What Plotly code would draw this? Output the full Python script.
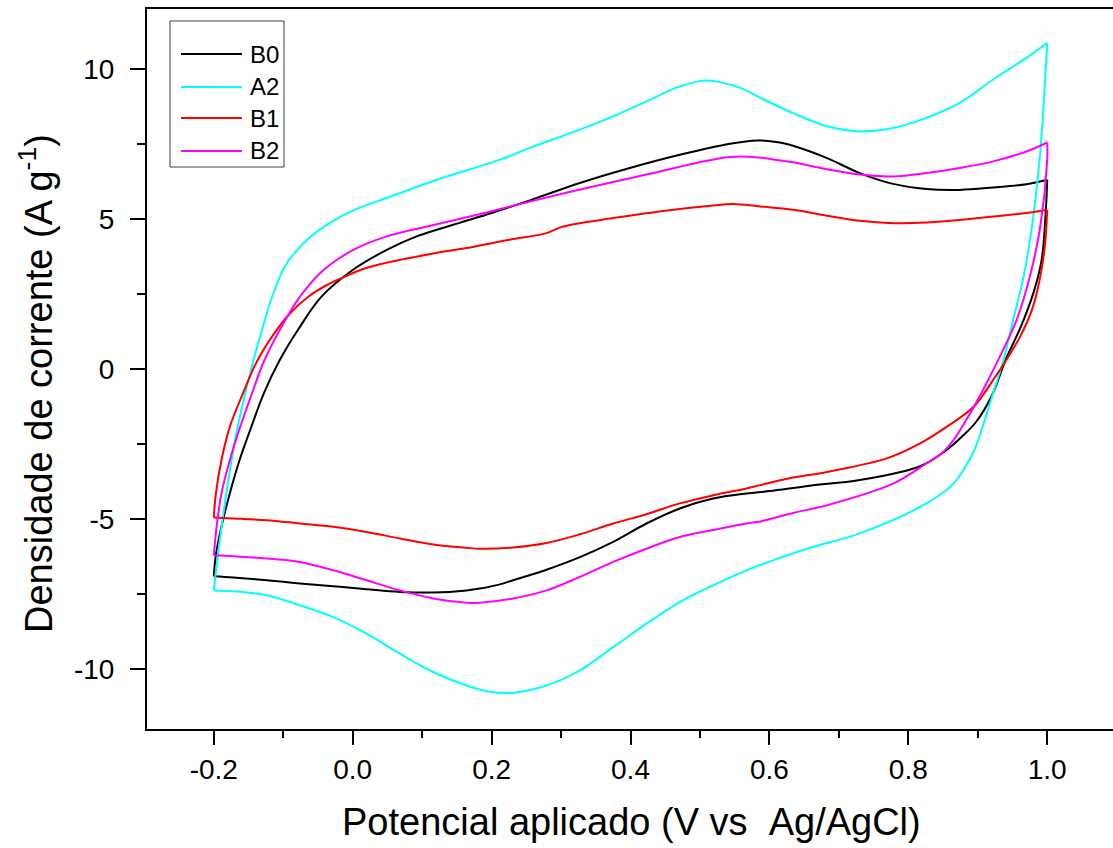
import plotly.graph_objects as go

# ---------------- data (potential V vs Ag/AgCl, current density A/g) -------------
# each loop: anodic sweep from -0.2 V to 1.0 V, then cathodic sweep back to -0.2 V
b0_v = [-0.2, -0.197, -0.189, -0.177, -0.163, -0.146, -0.128, -0.105, -0.079, -0.045, 0.0, 0.049, 0.092,
        0.155, 0.2, 0.255, 0.327, 0.399, 0.471, 0.543, 0.582, 0.615, 0.634, 0.683, 0.73, 0.778, 0.826,
        0.874, 0.922, 0.97, 1.0,
        0.998, 0.992, 0.98, 0.962, 0.94, 0.92, 0.898, 0.877, 0.855, 0.817, 0.73, 0.658, 0.6,
        0.567, 0.519, 0.471, 0.423, 0.375, 0.327, 0.279, 0.231, 0.212, 0.183, 0.164, 0.116, 0.068, 0.02,
        -0.028, -0.076, -0.124, -0.172, -0.2]
b0_j = [-6.91, -6.2, -5.26, -4.15, -3.04, -1.93, -0.81, 0.3, 1.30, 2.41, 3.30, 3.97, 4.42,
        4.88, 5.2, 5.62, 6.2, 6.7, 7.14, 7.51, 7.62, 7.55, 7.44, 7.03, 6.53, 6.17, 6.0,
        5.97, 6.05, 6.16, 6.31,
        5.31, 3.64, 2.53, 1.41, 0.3, -0.9, -1.75, -2.26, -2.70, -3.24, -3.70, -3.89, -4.07,
        -4.15, -4.32, -4.65, -5.15, -5.76, -6.27, -6.69, -7.04, -7.18, -7.32, -7.38, -7.45, -7.43, -7.34,
        -7.24, -7.15, -7.04, -6.95, -6.91]

a2_v = [-0.2, -0.193, -0.181, -0.168, -0.1428, -0.1306, -0.1162, -0.097, -0.083, -0.0658, -0.0327, 0.0033,
        0.0537, 0.1214, 0.2121, 0.255, 0.327, 0.375, 0.423, 0.471, 0.51, 0.558, 0.587, 0.634, 0.683, 0.73,
        0.778, 0.826, 0.874, 0.922, 0.97, 1.0,
        0.994, 0.989, 0.978, 0.966, 0.951, 0.937, 0.922, 0.91, 0.896, 0.881, 0.865, 0.826, 0.73, 0.66, 0.6,
        0.567, 0.519, 0.471, 0.423, 0.375, 0.327, 0.279, 0.231, 0.2, 0.164, 0.116, 0.068, 0.02, -0.028,
        -0.076, -0.124, -0.172, -0.2]
a2_j = [-7.38, -6.0, -4.0, -2.2, 0.30, 1.30, 2.40, 3.45, 3.88, 4.31, 4.87, 5.31,
        5.74, 6.31, 6.98, 7.37, 7.98, 8.42, 8.92, 9.42, 9.62, 9.37, 9.04, 8.53, 8.09, 7.92,
        8.03, 8.37, 8.87, 9.65, 10.37, 10.87,
        8.53, 6.98, 4.75, 3.08, 1.64, 0.3, -0.81, -1.70, -2.65, -3.3, -3.82, -4.48, -5.48, -5.95, -6.42,
        -6.71, -7.21, -7.77, -8.49, -9.27, -10.05, -10.55, -10.79, -10.77, -10.55, -10.1, -9.49, -8.82, -8.27,
        -7.88, -7.54, -7.41, -7.38]

b1_v = [-0.2, -0.197, -0.189, -0.177, -0.158, -0.138, -0.112, -0.09, -0.064, -0.037, -0.012, 0.011, 0.039,
        0.116, 0.164, 0.212, 0.231, 0.279, 0.303, 0.375, 0.447, 0.519, 0.548, 0.587, 0.634, 0.683, 0.73,
        0.778, 0.826, 0.874, 0.922, 0.97, 1.0,
        0.997, 0.99, 0.978, 0.961, 0.944, 0.922, 0.894, 0.855, 0.817, 0.769, 0.683, 0.634,
        0.587, 0.567, 0.519, 0.471, 0.423, 0.375, 0.327, 0.279, 0.231, 0.183, 0.164, 0.116, 0.068, 0.02,
        -0.028, -0.076, -0.124, -0.172, -0.2]
b1_j = [-4.95, -4.15, -3.04, -1.93, -0.81, 0.25, 1.22, 1.86, 2.41, 2.80, 3.07, 3.30, 3.49,
        3.85, 4.03, 4.25, 4.33, 4.53, 4.75, 5.03, 5.27, 5.45, 5.5, 5.42, 5.31, 5.11, 4.94,
        4.86, 4.88, 4.97, 5.08, 5.2, 5.31,
        4.2, 3.08, 1.97, 1.08, 0.41, -0.37, -1.26, -1.93, -2.48, -2.98, -3.43, -3.62,
        -3.87, -3.98, -4.21, -4.48, -4.84, -5.15, -5.51, -5.80, -5.95, -5.99, -5.96, -5.85, -5.65, -5.43,
        -5.26, -5.15, -5.04, -4.98, -4.95]

b2_v = [-0.2, -0.196, -0.189, -0.177, -0.162, -0.145, -0.128, -0.105, -0.076, -0.042, 0.001, 0.049, 0.107,
        0.164, 0.2, 0.255, 0.351, 0.423, 0.495, 0.543, 0.577, 0.61, 0.634, 0.683, 0.73, 0.778, 0.826,
        0.874, 0.922, 0.97, 1.0,
        1.0, 0.99, 0.975, 0.956, 0.934, 0.91, 0.889, 0.865, 0.848, 0.826, 0.778, 0.683, 0.634, 0.587,
        0.567, 0.519, 0.471, 0.423, 0.375, 0.327, 0.279, 0.231, 0.183, 0.164, 0.116, 0.068, 0.02, -0.028,
        -0.076, -0.124, -0.172, -0.2]
b2_j = [-6.21, -5.26, -4.15, -3.04, -1.93, -0.81, 0.25, 1.30, 2.41, 3.30, 3.97, 4.42, 4.75,
        5.06, 5.26, 5.58, 6.11, 6.48, 6.87, 7.07, 7.07, 6.97, 6.89, 6.66, 6.48, 6.42, 6.53,
        6.70, 6.92, 7.25, 7.55,
        6.98, 4.75, 3.08, 1.64, 0.52, -0.59, -1.48, -2.37, -2.81, -3.15, -3.82, -4.54, -4.8, -5.08,
        -5.15, -5.37, -5.6, -5.99, -6.43, -6.93, -7.38, -7.65, -7.79, -7.79, -7.65, -7.38, -7.04, -6.71,
        -6.43, -6.32, -6.24, -6.21]

series_names = ["B0", "A2", "B1", "B2"]
series_colors = ["#000000", "#00FFFF", "#FF0000", "#FF00FF"]
series_v = [b0_v, a2_v, b1_v, b2_v]
series_j = [b0_j, a2_j, b1_j, b2_j]

x_tickvals = [-0.2, 0.0, 0.2, 0.4, 0.6, 0.8, 1.0]
x_ticktext = ["-0.2", "0.0", "0.2", "0.4", "0.6", "0.8", "1.0"]
y_tickvals = [-10, -5, 0, 5, 10]
y_ticktext = ["-10", "-5", "0", "5", "10"]

x_title = "Potencial aplicado (V vs \u00a0Ag/AgCl)"
y_title = "Densidade de corrente (A g<sup>-1</sup>)"

FONT = "Arial, 'Liberation Sans', sans-serif"

fig = go.Figure()
for name, col, v, j in zip(series_names, series_colors, series_v, series_j):
    k = v.index(max(v))  # vertex potential: split anodic / cathodic sweeps so corners stay sharp
    for seg_v, seg_j in ((v[:k + 1], j[:k + 1]), (v[k:], j[k:])):
        fig.add_trace(go.Scatter(x=seg_v, y=seg_j, mode="lines", name=name, legendgroup=name,
                                 line=dict(color=col, width=2, shape="spline", smoothing=1.0),
                                 showlegend=False))

W, H = 1113, 848
ML, MR, MT, MB = 147, 0, 9, 119
pw, ph = W - ML - MR, H - MT - MB


def px(xp):
    return (xp - ML) / pw


def py(yp):
    return (H - MB - yp) / ph


# manual legend (box, line samples, labels)
shapes = [dict(type="rect", xref="paper", yref="paper", x0=px(170), x1=px(284), y0=py(167), y1=py(21),
               line=dict(color="#404040", width=1), fillcolor="white", layer="above")]
annotations = []
leg_y = [54, 87, 118, 151]
for name, col, ly in zip(series_names, series_colors, leg_y):
    shapes.append(dict(type="line", xref="paper", yref="paper", x0=px(181), x1=px(242), y0=py(ly), y1=py(ly),
                       line=dict(color=col, width=2), layer="above"))
    annotations.append(dict(xref="paper", yref="paper", x=px(248), y=py(ly), text=name, showarrow=False,
                            xanchor="left", yanchor="middle", font=dict(family=FONT, size=24, color="black")))

annotations.append(dict(xref="paper", yref="paper", x=px(631), y=py(822), text=x_title, showarrow=False,
                        xanchor="center", yanchor="middle", font=dict(family=FONT, size=38, color="black")))
annotations.append(dict(xref="paper", yref="paper", x=px(36), y=py(384), text=y_title, showarrow=False,
                        textangle=-90, xanchor="center", yanchor="middle",
                        font=dict(family=FONT, size=38, color="black")))

fig.update_layout(
    width=W, height=H,
    margin=dict(l=ML, r=MR, t=MT, b=MB, pad=0),
    paper_bgcolor="white", plot_bgcolor="white",
    font=dict(family=FONT, color="black"),
    shapes=shapes, annotations=annotations,
    showlegend=False,
)
fig.update_xaxes(range=[-0.2962, 1.0947], showgrid=False, zeroline=False,
                 showline=True, linecolor="black", linewidth=2, mirror=True,
                 ticks="outside", ticklen=14, tickwidth=2, tickcolor="black",
                 tickvals=x_tickvals, ticktext=x_ticktext,
                 tickfont=dict(family=FONT, size=28, color="black"),
                 minor=dict(ticks="outside", ticklen=7, tickwidth=2, tickcolor="black", dtick=0.1, tick0=0.0))
fig.update_yaxes(range=[-12, 12], showgrid=False, zeroline=False,
                 showline=True, linecolor="black", linewidth=2, mirror=False,
                 ticks="outside", ticklen=15, tickwidth=2, tickcolor="black",
                 tickvals=y_tickvals, ticktext=y_ticktext,
                 tickfont=dict(family=FONT, size=28, color="black"), ticklabelstandoff=10,
                 minor=dict(ticks="outside", ticklen=8, tickwidth=2, tickcolor="black", dtick=2.5, tick0=0))

fig.write_html("out.html", config={"displayModeBar": False})
